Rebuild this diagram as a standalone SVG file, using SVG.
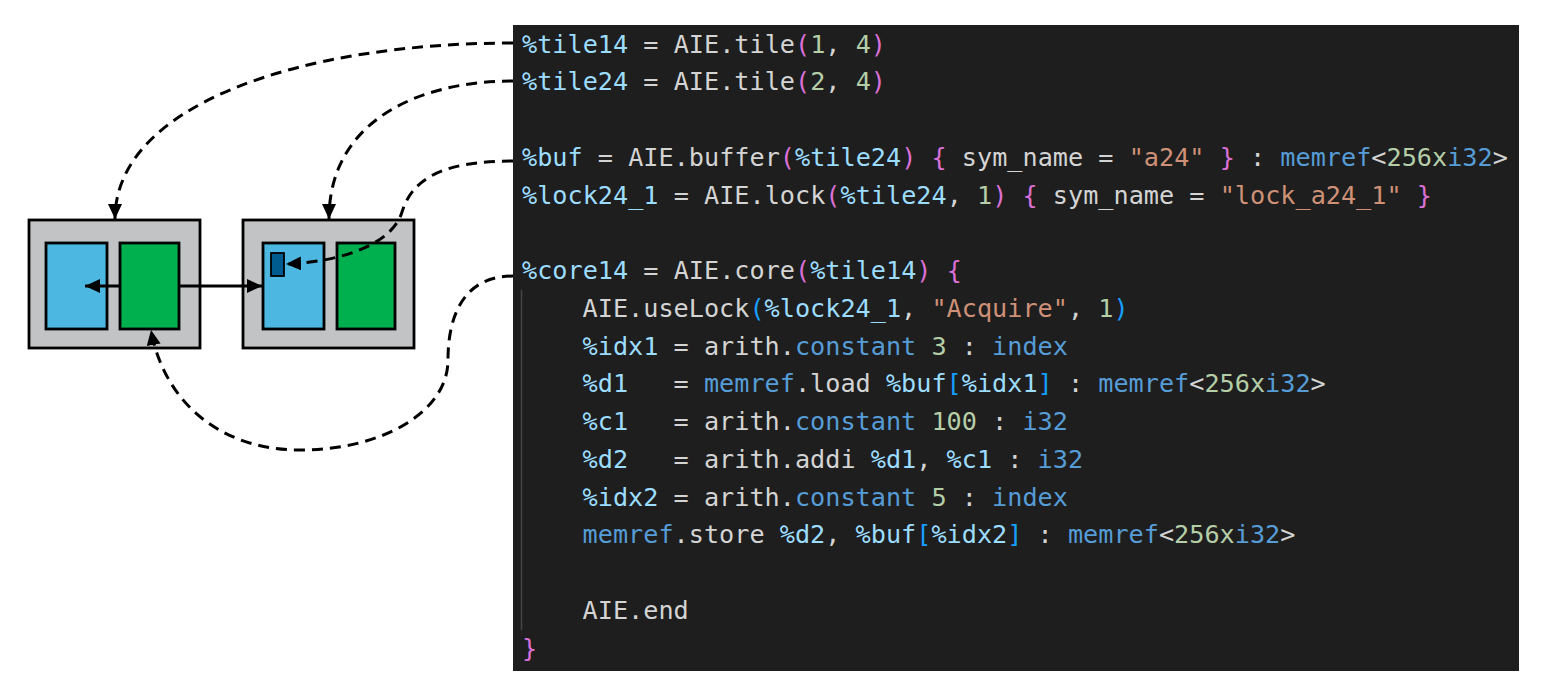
<svg xmlns="http://www.w3.org/2000/svg" width="1552" height="700" viewBox="0 0 1552 700">
<defs>
<marker id="ah" markerUnits="userSpaceOnUse" markerWidth="18" markerHeight="16" refX="15" refY="7" orient="auto"><path d="M0,0 L15,7 L0,14 z" fill="#000"/></marker>
<style>
.tile{fill:#c1c3c4;stroke:#000;stroke-width:2.8}
.mem{fill:#4cb7e1;stroke:#000;stroke-width:2.8}
.core{fill:#00b04f;stroke:#000;stroke-width:2.8}
.buf{fill:#005c8f;stroke:#000;stroke-width:1.8}
.solid{fill:none;stroke:#000;stroke-width:3}
.dash{fill:none;stroke:#000;stroke-width:3;stroke-dasharray:11 7}
.code{font-family:"DejaVu Sans Mono","Liberation Mono",monospace;font-size:25.2px;fill:#d4d4d4;white-space:pre}
.v{fill:#9cdcfe}.n{fill:#b5cea8}.s{fill:#ce9178}.k{fill:#569cd6}.p{fill:#da70d6}.b{fill:#179fff}
</style>
</defs>
<rect width="1552" height="700" fill="#fff"/>
<g id="code-panel">
<rect x="513" y="25" width="1006" height="646" fill="#1e1e1e"/>
<line x1="521.5" y1="290" x2="521.5" y2="630" stroke="#444" stroke-width="1.5"/>
<text class="code" xml:space="preserve" x="522" y="52.5"><tspan class="v">%tile14</tspan> = AIE.tile<tspan class="p">(</tspan><tspan class="n">1</tspan>, <tspan class="n">4</tspan><tspan class="p">)</tspan></text>
<text class="code" xml:space="preserve" x="522" y="90.3"><tspan class="v">%tile24</tspan> = AIE.tile<tspan class="p">(</tspan><tspan class="n">2</tspan>, <tspan class="n">4</tspan><tspan class="p">)</tspan></text>
<text class="code" xml:space="preserve" x="522" y="165.8"><tspan class="v">%buf</tspan> = AIE.buffer<tspan class="p">(</tspan><tspan class="v">%tile24</tspan><tspan class="p">)</tspan> <tspan class="p">{</tspan> sym_name = <tspan class="s">"a24"</tspan> <tspan class="p">}</tspan> : <tspan class="k">memref</tspan>&lt;<tspan class="n">256x</tspan><tspan class="k">i32</tspan>&gt;</text>
<text class="code" xml:space="preserve" x="522" y="203.5"><tspan class="v">%lock24_1</tspan> = AIE.lock<tspan class="p">(</tspan><tspan class="v">%tile24</tspan>, <tspan class="n">1</tspan><tspan class="p">)</tspan> <tspan class="p">{</tspan> sym_name = <tspan class="s">"lock_a24_1"</tspan> <tspan class="p">}</tspan></text>
<text class="code" xml:space="preserve" x="522" y="279"><tspan class="v">%core14</tspan> = AIE.core<tspan class="p">(</tspan><tspan class="v">%tile14</tspan><tspan class="p">)</tspan> <tspan class="p">{</tspan></text>
<text class="code" xml:space="preserve" x="582.6" y="316.8">AIE.useLock<tspan class="b">(</tspan><tspan class="v">%lock24_1</tspan>, <tspan class="s">"Acquire"</tspan>, <tspan class="n">1</tspan><tspan class="b">)</tspan></text>
<text class="code" xml:space="preserve" x="582.6" y="354.5"><tspan class="v">%idx1</tspan> = arith.<tspan class="k">constant</tspan> <tspan class="n">3</tspan> : <tspan class="k">index</tspan></text>
<text class="code" xml:space="preserve" x="582.6" y="392.3"><tspan class="v">%d1</tspan>   = <tspan class="k">memref</tspan>.load <tspan class="v">%buf</tspan><tspan class="b">[</tspan><tspan class="v">%idx1</tspan><tspan class="b">]</tspan> : <tspan class="k">memref</tspan>&lt;<tspan class="n">256x</tspan><tspan class="k">i32</tspan>&gt;</text>
<text class="code" xml:space="preserve" x="582.6" y="430"><tspan class="v">%c1</tspan>   = arith.<tspan class="k">constant</tspan> <tspan class="n">100</tspan> : <tspan class="k">i32</tspan></text>
<text class="code" xml:space="preserve" x="582.6" y="467.8"><tspan class="v">%d2</tspan>   = arith.addi <tspan class="v">%d1</tspan>, <tspan class="v">%c1</tspan> : <tspan class="k">i32</tspan></text>
<text class="code" xml:space="preserve" x="582.6" y="505.5"><tspan class="v">%idx2</tspan> = arith.<tspan class="k">constant</tspan> <tspan class="n">5</tspan> : <tspan class="k">index</tspan></text>
<text class="code" xml:space="preserve" x="582.6" y="543.3"><tspan class="k">memref</tspan>.store <tspan class="v">%d2</tspan>, <tspan class="v">%buf</tspan><tspan class="b">[</tspan><tspan class="v">%idx2</tspan><tspan class="b">]</tspan> : <tspan class="k">memref</tspan>&lt;<tspan class="n">256x</tspan><tspan class="k">i32</tspan>&gt;</text>
<text class="code" xml:space="preserve" x="582.6" y="618.8">AIE.end</text>
<text class="code" xml:space="preserve" x="522" y="656.5"><tspan class="p">}</tspan></text>
</g>
<g id="tile14">
<rect class="tile" x="29" y="220" width="171" height="128"/>
<rect class="mem" x="46" y="243" width="61" height="86"/>
<rect class="core" x="120" y="243" width="59" height="86"/>
</g>
<g id="tile24">
<rect class="tile" x="243" y="220" width="171" height="128"/>
<rect class="mem" x="263" y="243" width="61" height="86"/>
<rect class="core" x="337" y="243" width="58" height="86"/>
<rect id="buf" class="buf" x="271" y="253" width="13" height="23"/>
</g>
<g id="connectors">
<line class="solid" x1="120" y1="286" x2="85" y2="286" marker-end="url(#ah)"/>
<line class="solid" x1="179" y1="286" x2="262" y2="286" marker-end="url(#ah)"/>
<path class="dash" d="M513,43 C300,43 115,105 115,219" marker-end="url(#ah)"/>
<path class="dash" d="M513,81 C420,81 329,120 329,219" marker-end="url(#ah)"/>
<path class="dash" d="M513,161 C440,161 412,180 402,212 C392,245 340,262 286,264" marker-end="url(#ah)"/>
<path class="dash" d="M513,276 C462,276 448,318 448,360 C448,412 382,450 300,450 C220,450 164,402 151,330" marker-end="url(#ah)"/>
</g>
</svg>
